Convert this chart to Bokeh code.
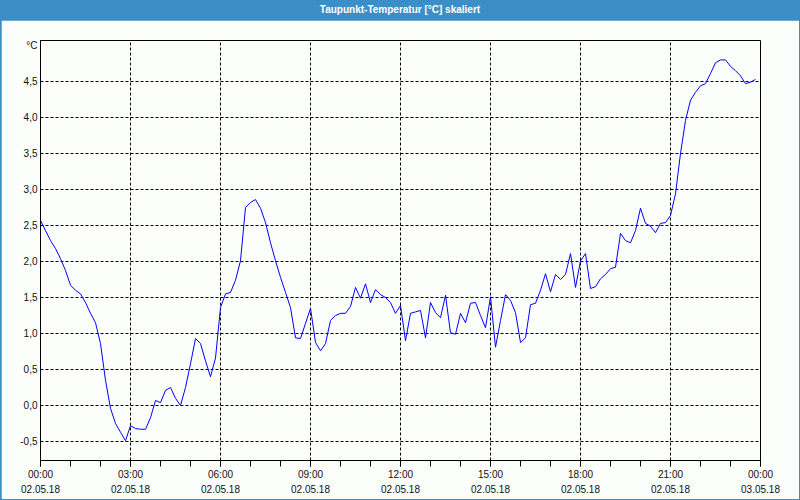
from bokeh.plotting import figure
from bokeh.models import (Range1d, FixedTicker, LinearAxis, Div, ColumnDataSource)
from bokeh.layouts import column
from bokeh.embed import file_html
from bokeh.resources import INLINE

title_text = "Taupunkt-Temperatur [°C] skaliert"
unit_label = "°C"

# dew point temperature, 10-minute samples from 02.05.18 00:00 to 23:50
values = [
    2.57, 2.43, 2.29, 2.18, 2.04, 1.875, 1.67, 1.60, 1.55, 1.43, 1.28, 1.15,
    0.86, 0.35, -0.04, -0.25, -0.37, -0.49, -0.28, -0.32, -0.33, -0.33, -0.17, 0.07,
    0.04, 0.21, 0.25, 0.10, 0.0, 0.25, 0.58, 0.93, 0.86, 0.62, 0.40, 0.66,
    1.36, 1.55, 1.57, 1.74, 2.01, 2.75, 2.82, 2.86, 2.74, 2.54, 2.26, 2.01,
    1.78, 1.57, 1.36, 0.94, 0.93, 1.14, 1.35, 0.875, 0.76, 0.86, 1.18, 1.25,
    1.28, 1.28, 1.375, 1.64, 1.49, 1.69, 1.43, 1.61, 1.54, 1.50, 1.43, 1.28,
    1.39, 0.90, 1.28, 1.30, 1.32, 0.94, 1.43, 1.29, 1.22, 1.53, 1.01, 0.99,
    1.28, 1.15, 1.42, 1.43, 1.25, 1.08, 1.51, 0.81, 1.18, 1.54, 1.46, 1.29,
    0.875, 0.94, 1.40, 1.42, 1.60, 1.83, 1.58, 1.82, 1.75, 1.82, 2.11, 1.64,
    2.01, 2.11, 1.625, 1.65, 1.76, 1.82, 1.90, 1.92, 2.39, 2.29, 2.26, 2.43,
    2.74, 2.53, 2.49, 2.40, 2.53, 2.54, 2.64, 2.94, 3.50, 3.96, 4.24, 4.35,
    4.44, 4.47, 4.61, 4.76, 4.80, 4.80, 4.71, 4.65, 4.58, 4.47, 4.49, 4.53,
]
hours = [i / 6 for i in range(len(values))]

x_major = [0, 3, 6, 9, 12, 15, 18, 21, 24]
x_time_labels = ["00:00", "03:00", "06:00", "09:00", "12:00", "15:00", "18:00", "21:00", "00:00"]
x_date_labels = ["02.05.18"] * 8 + ["03.05.18"]
x_minor = list(range(0, 25))

y_grid = [-0.5, 0.0, 0.5, 1.0, 1.5, 2.0, 2.5, 3.0, 3.5, 4.0, 4.5]
y_labels = ["-0,5", "0,0", "0,5", "1,0", "1,5", "2,0", "2,5", "3,0", "3,5", "4,0", "4,5"]
y_unit_pos = 5.0

BG = "#fbfefb"
BLUE = "#3c8fc6"
FONT = "Liberation Sans"

p = figure(width=798, height=479, output_backend="svg", toolbar_location=None,
           x_range=Range1d(0, 24), y_range=Range1d(-0.7639, 5.0694),
           min_border_left=39, min_border_right=39, min_border_top=20,
           min_border_bottom=39, margin=(0, 1, 1, 1))
p.background_fill_color = BG
p.border_fill_color = BG
p.outline_line_color = "black"
p.outline_line_width = 1

src = ColumnDataSource(dict(x=hours, y=values))
p.line("x", "y", source=src, line_color="#0000ff", line_width=1)

# x axis: times
xa = p.xaxis[0]
xa.ticker = FixedTicker(ticks=x_major, minor_ticks=x_minor)
xa.major_label_overrides = {t: l for t, l in zip(x_major, x_time_labels)}
xa.major_tick_out = 6
xa.major_tick_in = 0
xa.minor_tick_out = 6
xa.minor_tick_in = 0
xa.axis_line_color = "black"
xa.major_tick_line_color = "black"
xa.minor_tick_line_color = "black"
xa.major_label_standoff = 2
xa.major_label_text_font = FONT
xa.major_label_text_font_size = "10px"
xa.major_label_text_color = "#111111"

# x axis: dates
xd = LinearAxis(ticker=FixedTicker(ticks=x_major),
                major_label_overrides={t: l for t, l in zip(x_major, x_date_labels)})
xd.axis_line_color = None
xd.major_tick_line_color = None
xd.minor_tick_line_color = None
xd.major_tick_out = 0
xd.major_tick_in = 0
xd.major_label_standoff = 2
xd.major_label_text_font = FONT
xd.major_label_text_font_size = "10px"
xd.major_label_text_color = "#111111"
p.add_layout(xd, "below")

# y axis
ya = p.yaxis[0]
y_ticks = y_grid + [y_unit_pos]
ya.ticker = FixedTicker(ticks=y_ticks)
y_over = {t: l for t, l in zip(y_grid, y_labels)}
y_over[y_unit_pos] = unit_label
ya.major_label_overrides = y_over
ya.major_tick_out = 0
ya.major_tick_in = 0
ya.minor_tick_line_color = None
ya.axis_line_color = "black"
ya.major_label_standoff = 3
ya.major_label_text_font = FONT
ya.major_label_text_font_size = "10px"
ya.major_label_text_color = "#111111"

# grid
p.xgrid.ticker = FixedTicker(ticks=x_major[1:-1])
p.ygrid.ticker = FixedTicker(ticks=y_grid)
for g in (p.xgrid[0], p.ygrid[0]):
    g.grid_line_color = "black"
    g.grid_line_dash = "3 2"
    g.grid_line_width = 1

header = Div(text=title_text, width=800, height=20, margin=0,
             styles={"background-color": BLUE, "color": "white",
                     "font-family": "'Liberation Sans', sans-serif",
                     "font-weight": "bold", "font-size": "10px",
                     "text-align": "center", "line-height": "20px",
                     "width": "800px"})

layout = column(header, p, spacing=0, margin=0, width=800, height=500,
                styles={"background-color": BLUE})
open("out.html", "w").write(file_html(layout, INLINE))
